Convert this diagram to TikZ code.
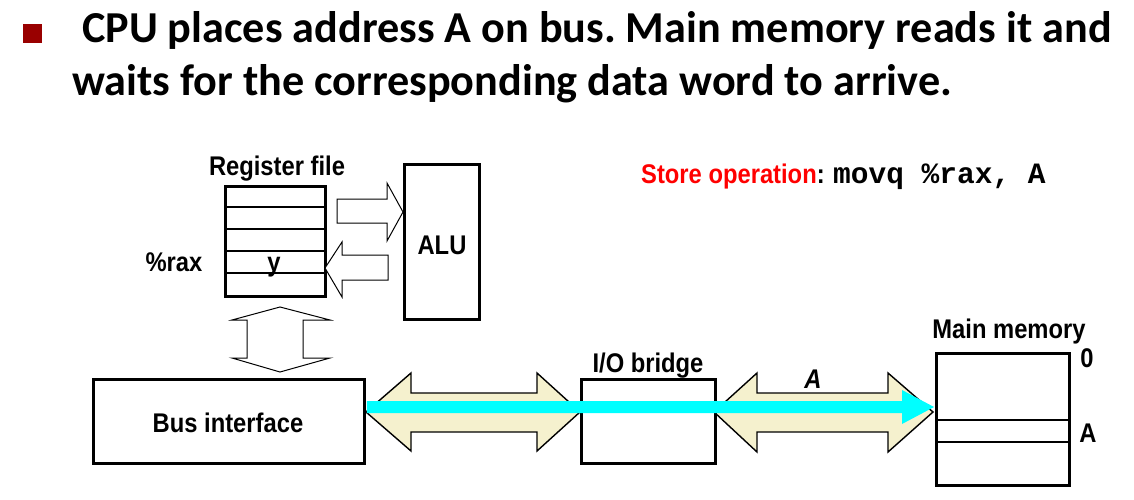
\documentclass[tikz,border=0pt]{standalone}
\usepackage{fontspec}
\usetikzlibrary{calc}
\setmainfont{Liberation Sans}
\setmonofont{Liberation Mono}
\newfontfamily\titlefont{Carlito}
\definecolor{bulletred}{RGB}{153,0,0}
\definecolor{busfill}{RGB}{245,241,206}
\definecolor{cyanbus}{RGB}{0,255,255}
\newcommand{\nw}[1]{\scalebox{0.88}[1]{#1}}
\frenchspacing
\begin{document}
\begin{tikzpicture}[x=1pt,y=-1pt,
  box/.style={draw=black,line width=2.8pt,fill=white,inner sep=0pt,anchor=north west},
  lbl/.style={font=\fontsize{27}{30}\selectfont\bfseries,inner sep=0pt,anchor=base},
  hollow/.style={draw=black,line width=1pt,fill=white,line join=miter},
  busarrow/.style={draw=black,line width=1.4pt,fill=busfill,line join=miter},
  ttl/.style={font=\titlefont\fontsize{44.2}{52}\selectfont\bfseries,inner sep=0pt,anchor=base west}]
\useasboundingbox (0,0) rectangle (1134,500);
\fill[white] (0,0) rectangle (1134,500);
% title
\fill[bulletred] (23,24) rectangle (42,43);
\node[ttl] (t1) at (82,42.5) {CPU places address A on bus. Main memory reads it and};
\node[ttl] (t2) at (72,96) {waits for the corresponding data word to arrive.};
% register file
\node[box,minimum width=100pt,minimum height=110pt] (rf) at (224,185) {};
\foreach \yy in {207,229,251,273} \draw[line width=2.6pt] (rf.west |- 0,\yy) -- (rf.east |- 0,\yy);
\node[lbl] (rflbl) at (277,175) {\nw{Register file}};
\node[lbl] (y) at (274,271) {\nw{y}};
\node[lbl] (rax) at (174,271) {\nw{\%rax}};
% ALU
\node[box,minimum width=75pt,minimum height=155pt] (alu) at (403,163) {};
\node[lbl] (alulbl) at (442,254) {\nw{ALU}};
% hollow arrows
\draw[hollow] (337,199) -- (387,199) -- (387,183) -- (403,212) -- (387,241) -- (387,223) -- (337,223) -- cycle;
\draw[hollow] (388,255) -- (342,255) -- (342,242) -- (325,268) -- (342,297) -- (342,280) -- (388,280) -- cycle;
\draw[hollow] (280,307) -- (330,320) -- (303,320) -- (303,358) -- (330,358) -- (280,372) -- (232,358) -- (247,358) -- (247,320) -- (232,320) -- cycle;
% bus arrows
\draw[busarrow] (366,412) -- (411,373) -- (411,393) -- (537,393) -- (537,373) -- (580,412) -- (537,451) -- (537,432) -- (411,432) -- (411,451) -- cycle;
\draw[busarrow] (714,412) -- (757,373) -- (757,393) -- (888,393) -- (888,373) -- (933,412) -- (888,452) -- (888,432) -- (757,432) -- (757,452) -- cycle;
% boxes
\node[box,minimum width=271pt,minimum height=84pt] (bus) at (92,378) {};
\node[lbl] (buslbl) at (228,432) {\nw{Bus interface}};
\node[box,minimum width=134pt,minimum height=84pt] (io) at (580,378) {};
\node[lbl] (iolbl) at (648,372) {\nw{I/O bridge}};
\node[box,minimum width=133pt,minimum height=132pt] (mem) at (935,352) {};
\foreach \yy in {420,442} \draw[line width=2.8pt] (mem.west |- 0,\yy) -- (mem.east |- 0,\yy);
\node[lbl] (memlbl) at (1009,338) {\nw{Main memory}};
\node[lbl] (m0) at (1087,367) {\nw{0}};
\node[lbl] (mA) at (1088,442) {\nw{A}};
\node[lbl,font=\fontsize{27}{30}\selectfont\bfseries\itshape] (alab) at (813,388) {\nw{A}};
% cyan arrow
\coordinate (cy) at (0,407);
\fill[cyanbus] ($(bus.east |- cy)+(1,-6)$) -- ($(mem.west |- cy)+(-33,-6)$) -- ($(mem.west |- cy)+(-33,-17)$) -- ($(mem.west |- cy)+(-1,0)$) -- ($(mem.west |- cy)+(-33,17)$) -- ($(mem.west |- cy)+(-33,6)$) -- ($(bus.east |- cy)+(1,6)$) -- cycle;
% store operation
\node[font=\fontsize{27}{30}\selectfont\bfseries,inner sep=0pt,anchor=base west] (st) at (641,183) {\nw{\textcolor{red}{Store operation}:}};
\node[font=\fontsize{29.5}{32}\selectfont\ttfamily\bfseries,inner sep=0pt,anchor=base west] (code) at (833,183) {movq \%rax, A};
\end{tikzpicture}
\end{document}
